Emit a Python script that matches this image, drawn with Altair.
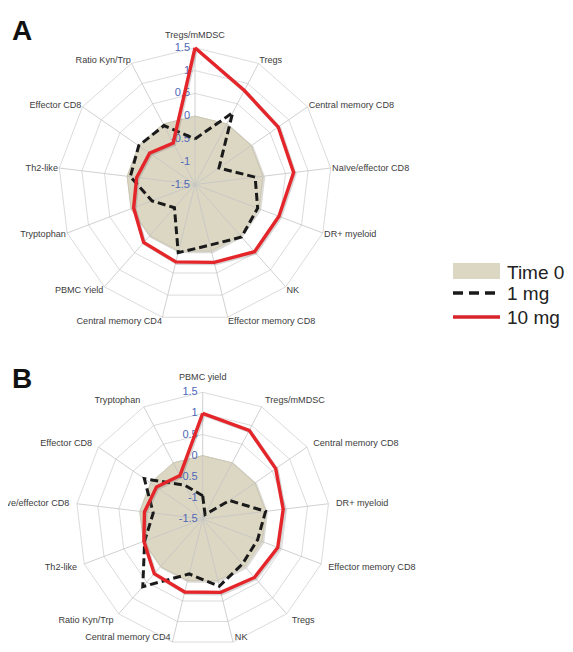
import altair as alt
import pandas as pd

# ---------------- data ----------------
A_AXES = ["Tregs/mMDSC", "Tregs", "Central memory CD8", "Naïve/effector CD8",
          "DR+ myeloid", "NK", "Effector memory CD8", "Central memory CD4",
          "PBMC Yield", "Tryptophan", "Th2-like", "Effector CD8", "Ratio Kyn/Trp"]
A_TIME0 = [0, 0, 0, 0, 0, 0, 0, 0, 0, 0, 0, 0, 0]
A_1MG = [-0.50, 0.28, -0.86, -0.17, -0.03, 0.04, -0.13, 0.04, -0.82, -0.49, -0.07, 0.00, -0.04]
A_10MG = [1.50, 0.83, 0.72, 0.68, 0.47, 0.47, 0.26, 0.25, 0.20, -0.06, -0.21, -0.29, -0.47]

B_AXES = ["PBMC yield", "Tregs/mMDSC", "Central memory CD8", "DR+ myeloid",
          "Effector memory CD8", "Tregs", "NK", "Central memory CD4",
          "Ratio Kyn/Trp", "Th2-like", "Naïve/effector CD8", "Effector CD8", "Tryptophan"]
B_TIME0 = [0, 0, 0, 0, 0, 0, 0, 0, 0, 0, 0, 0, 0]
B_1MG = [-0.95, -1.38, -0.73, 0.00, -0.11, -0.08, 0.14, -0.16, 0.64, -0.03, -0.32, 0.18, -0.60]
B_10MG = [1.00, 0.87, 0.60, 0.42, 0.40, 0.35, 0.29, 0.28, 0.23, -0.01, -0.11, -0.17, -0.34]

SERIES = ["Time 0", "1 mg", "10 mg"]
TICKS = [-1.5, -1.0, -0.5, 0.0, 0.5, 1.0, 1.5]
TICK_TEXT = ["-1.5", "-1", "-0.5", "0", "0.5", "1", "1.5"]
PANELS = ["A", "B"]

# ---------------- styling / layout ----------------
W, H = 557, 636
VMIN, VMAX = TICKS[0], TICKS[-1]
FONT = "Liberation Sans"
FILL = "#dcd7c3"
RED = "#e4252a"
BLACK = "#1a1a1a"
BLUE = "#5068b8"
GRID = "#d2d2d2"


def panel(axes, series_vals, cx, cy, R, lab_rx, lab_ry):
    n = len(axes)
    xs = alt.Scale(domain=[(0 - cx) / R, (W - cx) / R], nice=False, zero=False)
    ys = alt.Scale(domain=[(cy - H) / R, cy / R], nice=False, zero=False)
    ybottom = (cy - H) / R
    sh = 1.2 / R  # shadow offset in data units

    def X(f):
        return alt.X(f, type="quantitative", scale=xs, axis=None)

    def Y(f):
        return alt.Y(f, type="quantitative", scale=ys, axis=None)

    ang = f"datum.idx * 2 * PI / {n}"
    rad = f"(datum.value - ({VMIN})) / ({VMAX - VMIN})"

    # series rows (closed polygons)
    srows = []
    for s, vals in zip(SERIES, series_vals):
        for k in range(n + 1):
            srows.append({"series": s, "idx": k % n, "o": k, "value": vals[k % n]})
    sdf = pd.DataFrame(srows)

    # ring rows
    rrows = []
    for t in TICKS[1:]:
        for k in range(n + 1):
            rrows.append({"ring": t, "idx": k % n, "o": k, "value": t})
    rdf = pd.DataFrame(rrows)

    spdf = pd.DataFrame({"idx": list(range(n)), "axis": axes})
    tdf = pd.DataFrame({"idx": [0] * len(TICKS), "value": TICKS, "label": TICK_TEXT})
    ldf = pd.DataFrame({"idx": list(range(n)), "axis": axes})

    rings = alt.Chart(rdf).transform_calculate(a=ang, rn=rad).transform_calculate(
        px="datum.rn * sin(datum.a)", py="datum.rn * cos(datum.a)"
    ).mark_line(stroke=GRID, strokeWidth=0.8).encode(
        x=X("px"), y=Y("py"), detail="ring:N", order="o:Q")

    def series_chart(name):
        return alt.Chart(sdf).transform_filter(
            alt.datum.series == name
        ).transform_calculate(a=ang, rn=rad).transform_calculate(
            px="datum.rn * sin(datum.a)", py="datum.rn * cos(datum.a)",
        ).transform_calculate(
            sx=f"datum.px + {sh}", sy=f"datum.py - {sh}"
        )

    fill_shadow = series_chart("Time 0").mark_line(
        stroke="#9a9688", strokeWidth=2.2, opacity=0.35
    ).encode(x=X("sx"), y=Y("sy"), order="o:Q")

    fill = series_chart("Time 0").mark_line(
        fill=FILL, stroke="#cdc8b3", strokeWidth=1.0
    ).encode(x=X("px"), y=Y("py"), order="o:Q")

    spokes = alt.Chart(spdf).transform_calculate(a=ang).transform_calculate(
        x0="0 * sin(datum.a)", y0="0 * cos(datum.a)",
        x1="sin(datum.a)", y1="cos(datum.a)",
    ).mark_rule(stroke="#c4c4c4", strokeWidth=0.8).encode(
        x=X("x0"), y=Y("y0"), x2="x1:Q", y2="y1:Q")

    ticks = alt.Chart(tdf).transform_calculate(a=ang, rn=rad).transform_calculate(
        px="datum.rn * sin(datum.a)", py="datum.rn * cos(datum.a)"
    ).mark_text(align="right", baseline="middle", dx=-5, fontSize=11,
                font=FONT, color=BLUE).encode(x=X("px"), y=Y("py"), text="label:N")

    one = series_chart("1 mg").mark_line(
        stroke=BLACK, strokeWidth=3, strokeDash=[8, 4], strokeJoin="miter"
    ).encode(x=X("px"), y=Y("py"), order="o:Q")

    ten_shadow = series_chart("10 mg").mark_line(
        stroke="#777777", strokeWidth=3.6, opacity=0.3, strokeJoin="miter"
    ).encode(x=X("sx"), y=Y("sy"), order="o:Q")

    ten = series_chart("10 mg").mark_line(
        stroke=RED, strokeWidth=3.4, strokeJoin="miter"
    ).encode(x=X("px"), y=Y("py"), order="o:Q")

    def lab(filt, align):
        return alt.Chart(ldf).transform_filter(filt).transform_calculate(
            a=ang
        ).transform_calculate(
            lx=f"{lab_rx} * sin(datum.a)",
            ly=f"max({lab_ry} * cos(datum.a) + (datum.idx == 0 ? 0.06 : 0), {ybottom + 7.0 / R})",
        ).mark_text(align=align, baseline="middle", fontSize=9.1, font=FONT,
                    color="#3c3c3c").encode(x=X("lx"), y=Y("ly"), text="axis:N")

    half = n / 2.0
    labels_top = lab("datum.idx == 0", "center")
    labels_right = lab(f"datum.idx > 0 && datum.idx < {half}", "left")
    labels_left = lab(f"datum.idx > {half}", "right")

    return alt.layer(rings, fill_shadow, fill, spokes, ticks, one, ten_shadow, ten,
                     labels_top, labels_right, labels_left)


# centres in plot coordinates (page coordinates minus the 8px page margin)
panel_a = panel(A_AXES, [A_TIME0, A_1MG, A_10MG], cx=187.0, cy=176.5, R=136.7,
                lab_rx=1.01, lab_ry=1.03)
panel_b = panel(B_AXES, [B_TIME0, B_1MG, B_10MG], cx=194.7, cy=511.0, R=126.7,
                lab_rx=1.06, lab_ry=1.06)

# panel letters
letter_a = alt.Chart(pd.DataFrame({"p": [PANELS[0]]})).mark_text(
    align="left", baseline="alphabetic", fontSize=28, fontWeight="bold", font=FONT,
    color="#111111").encode(x=alt.value(4), y=alt.value(32), text="p:N")
letter_b = alt.Chart(pd.DataFrame({"p": [PANELS[1]]})).mark_text(
    align="left", baseline="alphabetic", fontSize=28, fontWeight="bold", font=FONT,
    color="#111111").encode(x=alt.value(4), y=alt.value(380), text="p:N")

# legend
leg_rect = alt.Chart(pd.DataFrame({"s": [SERIES[0]]})).mark_rect(color=FILL).encode(
    x=alt.value(445), x2=alt.value(492), y=alt.value(255), y2=alt.value(271))
leg_dash = alt.Chart(pd.DataFrame({"s": [SERIES[1]]})).mark_rule(
    color=BLACK, strokeWidth=3.5, strokeDash=[10, 6]).encode(
    x=alt.value(445), x2=alt.value(492), y=alt.value(285))
leg_red = alt.Chart(pd.DataFrame({"s": [SERIES[2]]})).mark_rule(
    color="#d9232b", strokeWidth=3.5).encode(
    x=alt.value(445), x2=alt.value(492), y=alt.value(309))
leg_texts = []
for name, yy in zip(SERIES, [271, 292, 316]):
    leg_texts.append(
        alt.Chart(pd.DataFrame({"s": [name]})).mark_text(
            align="left", baseline="alphabetic", fontSize=19, font=FONT, color="#222222"
        ).encode(x=alt.value(499), y=alt.value(yy), text="s:N"))

chart = alt.layer(
    panel_a, panel_b, letter_a, letter_b, leg_rect, leg_dash, leg_red, *leg_texts
).resolve_scale(x="independent", y="independent").properties(
    width=W, height=H, padding=0,
    autosize=alt.AutoSizeParams(type="none"),
    background="white",
).configure_view(stroke=None)

chart.save("out.html", embed_options={"renderer": "svg", "actions": False})
